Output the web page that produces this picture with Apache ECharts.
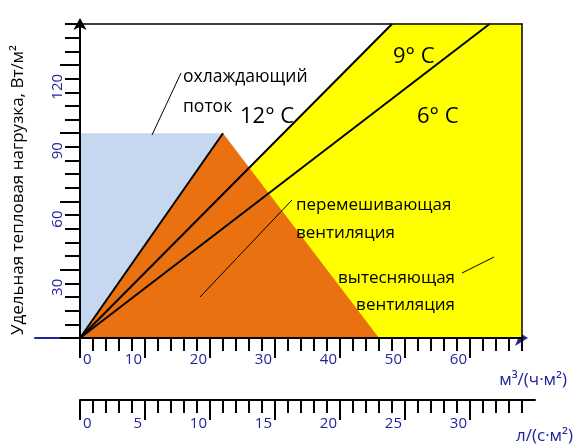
<!DOCTYPE html>
<html>
<head>
<meta charset="utf-8">
<script src="https://cdn.jsdelivr.net/npm/echarts@6/dist/echarts.min.js"></script>
<style>
  html, body { margin: 0; padding: 0; background: #fff; }
  #chart { width: 575px; height: 446px; }
</style>
</head>
<body>
<div id="chart"></div>
<script>
// подписи осей
const flowLabels = [0, 10, 20, 30, 40, 50, 60];      // м3/(ч·м2)
const flowLsLabels = [0, 5, 10, 15, 20, 25, 30];     // л/(с·м2)
const loadLabels = [30, 60, 90, 120];                // Вт/м2
const loadLongTicks = [0, 30, 60, 90, 120];

// зоны (x - расход, y - нагрузка)
const displacementZone = [[0, 0], [48, 138], [68, 138]];   // жёлтая
const coolingZone = [[0, 90], [22, 90]];                   // голубая
const mixingZone = [[0, 0], [22, 90], [46, 0]];            // оранжевая

// линии от начала координат
const coolingEdge = [[0, 0], [22, 90]];
const line12to9 = [[0, 0], [48, 138]];
const line9to6 = [[0, 0], [63, 138]];

const FONT = '"Open Sans", "DejaVu Sans", sans-serif';
const NAVY = '#23239b';
const flowMinor = Array.from({ length: 35 }, (_, i) => i);

function areaSeries(data, color) {
    return {
        type: 'line', xAxisIndex: 0, yAxisIndex: 0, data: data,
        symbol: 'none', silent: true, smooth: false,
        lineStyle: { opacity: 0 },
        areaStyle: { color: color, opacity: 1 }
    };
}
function blackLine(data) {
    return {
        type: 'line', xAxisIndex: 0, yAxisIndex: 0, data: data,
        symbol: 'none', silent: true,
        lineStyle: { color: '#000', width: 2 }
    };
}
function txt(text, x, y, size, align) {
    return {
        type: 'text', x: x, y: y, z: 100,
        style: {
            text: text, font: size + 'px ' + FONT, fill: '#000',
            align: align || 'left', textAlign: align || 'left',
            verticalAlign: 'middle', textVerticalAlign: 'middle'
        }
    };
}
function leader(x1, y1, x2, y2) {
    return { type: 'line', z: 100, shape: { x1, y1, x2, y2 }, style: { stroke: '#000', lineWidth: 1 } };
}

const option = {
    backgroundColor: '#fff',
    animation: false,
    grid: [
        { left: 80, top: 24, width: 442, height: 314 },
        { left: 80, top: 24, width: 455, height: 376 },
        { left: 35, top: 24, width: 487, height: 314 }
    ],
    xAxis: [
        { // основные деления
            gridIndex: 0, type: 'value', position: 'bottom', min: 0, max: 68, interval: 2, z: 6,
            axisLine: { onZero: false, lineStyle: { color: '#000', width: 2 } },
            axisTick: { length: 13, lineStyle: { color: '#000', width: 2 } },
            axisLabel: { show: false }, splitLine: { show: false }
        },
        { // длинные деления и подписи
            gridIndex: 0, type: 'value', position: 'bottom', min: 0, max: 68, z: 6,
            axisLine: { show: false },
            axisTick: { customValues: flowLabels, length: 20, lineStyle: { color: '#000', width: 2 } },
            axisLabel: {
                customValues: flowLabels, color: NAVY, fontSize: 15, fontFamily: FONT,
                margin: 14, align: 'right', alignMinLabel: 'left', padding: [0, 3, 0, 3]
            },
            splitLine: { show: false }
        },
        { // л/(с·м2)
            gridIndex: 1, type: 'value', position: 'bottom', min: 0, max: 35, z: 6,
            axisLine: { onZero: false, lineStyle: { color: '#000', width: 2 } },
            axisTick: { customValues: flowMinor, length: 13, lineStyle: { color: '#000', width: 2 } },
            axisLabel: { show: false }, splitLine: { show: false }
        },
        {
            gridIndex: 1, type: 'value', position: 'bottom', min: 0, max: 35, z: 6,
            axisLine: { show: false },
            axisTick: { customValues: flowLsLabels, length: 20, lineStyle: { color: '#000', width: 2 } },
            axisLabel: {
                customValues: flowLsLabels, color: NAVY, fontSize: 15, fontFamily: FONT,
                margin: 16, align: 'right', alignMinLabel: 'left', padding: [0, 3, 0, 3]
            },
            splitLine: { show: false }
        },
        { // синяя ось со стрелкой
            gridIndex: 2, type: 'value', position: 'bottom', min: 0, max: 1, z: 1,
            axisLine: {
                onZero: false, lineStyle: { color: NAVY, width: 2 },
                symbol: ['none', 'arrow'], symbolSize: [12, 13], symbolOffset: [0, 6]
            },
            axisTick: { show: false }, axisLabel: { show: false }, splitLine: { show: false }
        },
        { // верхняя рамка
            gridIndex: 0, type: 'value', position: 'top', min: 0, max: 68, z: 6,
            axisLine: { onZero: false, lineStyle: { color: '#000', width: 1.5 } },
            axisTick: { show: false }, axisLabel: { show: false }, splitLine: { show: false }
        }
    ],
    yAxis: [
        {
            gridIndex: 0, type: 'value', position: 'left', min: 0, max: 138, interval: 6, z: 6,
            axisLine: {
                onZero: false, lineStyle: { color: '#000', width: 2 },
                symbol: ['none', 'arrow'], symbolSize: [10, 12], symbolOffset: [0, 6]
            },
            axisTick: { length: 15, lineStyle: { color: '#000', width: 2 } },
            axisLabel: { show: false }, splitLine: { show: false }
        },
        {
            gridIndex: 0, type: 'value', position: 'left', min: 0, max: 138, z: 6,
            axisLine: { show: false },
            axisTick: { customValues: loadLongTicks, length: 20, lineStyle: { color: '#000', width: 2 } },
            axisLabel: {
                customValues: loadLabels, rotate: 90, color: NAVY, fontSize: 15, fontFamily: FONT,
                margin: 15, align: 'right', verticalAlign: 'bottom', padding: [0, 9, 0, 0]
            },
            splitLine: { show: false }
        },
        { gridIndex: 1, type: 'value', min: 0, max: 1, show: false },
        { gridIndex: 2, type: 'value', min: 0, max: 1, show: false },
        { // правая рамка
            gridIndex: 0, type: 'value', position: 'right', min: 0, max: 138, z: 6,
            axisLine: { onZero: false, lineStyle: { color: '#000', width: 1.5 } },
            axisTick: { show: false }, axisLabel: { show: false }, splitLine: { show: false }
        }
    ],
    series: [
        areaSeries(displacementZone, '#ffff00'),
        areaSeries(coolingZone, '#c6d8ef'),
        areaSeries(mixingZone, '#e9710f'),
        blackLine(coolingEdge),
        blackLine(line12to9),
        blackLine(line9to6)
    ],
    graphic: [
        {
            type: 'text', x: 18, y: 190, rotation: Math.PI / 2, z: 100,
            style: {
                text: 'Удельная тепловая нагрузка, Вт/м²', font: '17px ' + FONT, fill: '#000',
                align: 'center', textAlign: 'center', verticalAlign: 'middle', textVerticalAlign: 'middle'
            }
        },
        txt('охлаждающий', 183, 77, 17.5),
        txt('поток', 183, 107, 17.5),
        txt('12° C', 240, 117, 22),
        txt('9° C', 393, 57, 22),
        txt('6° C', 417, 117, 22),
        txt('перемешивающая', 296, 205, 17),
        txt('вентиляция', 296, 233, 17),
        txt('вытесняющая', 455, 278, 17, 'right'),
        txt('вентиляция', 455, 305, 17, 'right'),
        {
            type: 'text', x: 567, y: 380, z: 100,
            style: {
                text: 'м³/(ч·м²)', font: '17px ' + FONT, fill: NAVY,
                align: 'right', textAlign: 'right', verticalAlign: 'middle', textVerticalAlign: 'middle'
            }
        },
        {
            type: 'text', x: 573, y: 436, z: 100,
            style: {
                text: 'л/(с·м²)', font: '17px ' + FONT, fill: NAVY,
                align: 'right', textAlign: 'right', verticalAlign: 'middle', textVerticalAlign: 'middle'
            }
        },
        leader(152, 135, 181, 73),
        leader(292, 200, 200, 297),
        leader(462, 273, 494, 257)
    ]
};

let myChart = echarts.init(document.getElementById('chart'));
myChart.setOption(option);
</script>
</body>
</html>
